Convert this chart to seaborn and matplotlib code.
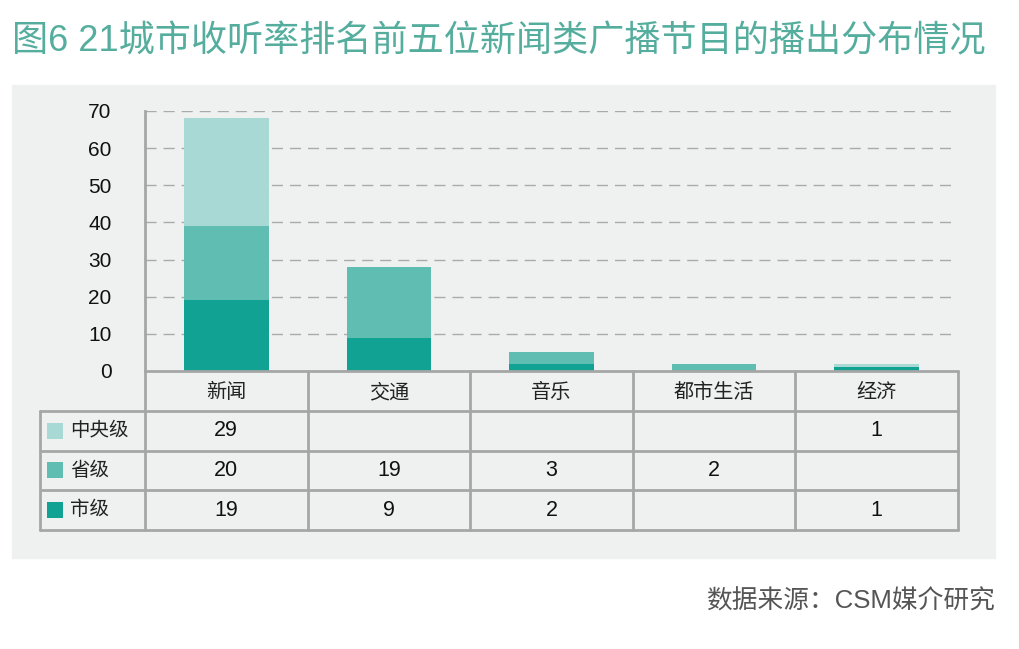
import matplotlib
matplotlib.use('Agg')
import matplotlib.pyplot as plt
import seaborn as sns
import pandas as pd
from matplotlib.patches import Rectangle

sns.set_theme(style='white')
plt.rcParams['font.family'] = ['Liberation Sans', 'Noto Sans CJK SC', 'DejaVu Sans']

# ── data ─────────────────────────────────────────────
categories = ['新闻', '交通', '音乐', '都市生活', '经济']
levels = ['中央级', '省级', '市级']
central = [29, 0, 0, 0, 1]
province = [20, 19, 3, 2, 0]
city = [19, 9, 2, 0, 1]
colors = {'中央级': '#a9d9d5', '省级': '#5fbdb1', '市级': '#12a293'}
y_ticks = [0, 10, 20, 30, 40, 50, 60, 70]

values = {'中央级': central, '省级': province, '市级': city}
df = pd.DataFrame({'category': categories, '中央级': central,
                   '省级': province, '市级': city})
df['top_city'] = df['市级']
df['top_prov'] = df['市级'] + df['省级']
df['top_all'] = df['top_prov'] + df['中央级']

W, H = 1020, 649
fig = plt.figure(figsize=(W / 100, H / 100), dpi=100)
fig.patch.set_facecolor('white')

# grey panel behind chart + table
fig.add_artist(Rectangle((12 / W, 1 - 558 / H), (995 - 12) / W, (558 - 85) / H,
                         transform=fig.transFigure, color='#eff1f0', zorder=0))

fig.text(12 / W, 1 - 42 / H, '图6 21城市收听率排名前五位新闻类广播节目的播出分布情况',
         fontsize=26, color='#55ad9e', va='center', ha='left')
fig.text(995 / W, 1 - 601 / H, '数据来源：CSM媒介研究', fontsize=18.5,
         color='#555555', va='center', ha='right')

# ── stacked bars (overlapping cumulative totals) ─────
ax = fig.add_axes([145 / W, 1 - 371 / H, (958 - 145) / W, 260 / H])
ax.set_facecolor('none')
for col, lvl in [('top_all', '中央级'), ('top_prov', '省级'), ('top_city', '市级')]:
    sns.barplot(data=df, x='category', y=col, color=colors[lvl], width=0.52,
                saturation=1, linewidth=0, ax=ax, zorder=3)
ax.set_xlim(-0.5, len(categories) - 0.5)
ax.set_ylim(0, 70)
ax.set_yticks(y_ticks)
ax.set_xticks([])
ax.set_xlabel('')
ax.set_ylabel('')
for t in y_ticks[1:]:
    ax.axhline(t, color='#aaaaaa', lw=1, ls=(0, (8, 5)), zorder=1)
ax.tick_params(axis='y', length=0, pad=24, labelsize=15, labelcolor='#111111')
for s in ['top', 'right', 'bottom']:
    ax.spines[s].set_visible(False)
ax.spines['left'].set_color('#a6a6a6')
ax.spines['left'].set_linewidth(2)

# ── data table under the bars ────────────────────────
col_w = (958 - 145) / len(categories)
left = -0.5 - (145 - 40) / col_w
tax = fig.add_axes([40 / W, 1 - 530 / H, (958 - 40) / W, (530 - 371) / H])
tax.set_facecolor('none')
tax.set_xlim(left, len(categories) - 0.5)
tax.set_ylim(0, 4)
tax.axis('off')
lc, lw = '#a6a6a6', 2
for y in [0, 1, 2, 3]:
    tax.plot([left, len(categories) - 0.5], [y, y], color=lc, lw=lw, clip_on=False)
tax.plot([-0.5, len(categories) - 0.5], [4, 4], color=lc, lw=lw, clip_on=False)
tax.plot([left, left], [0, 3], color=lc, lw=lw, clip_on=False)
for i in range(len(categories) + 1):
    tax.plot([i - 0.5, i - 0.5], [0, 4], color=lc, lw=lw, clip_on=False)

for i, c in enumerate(categories):
    tax.text(i, 3.45, c, ha='center', va='center', fontsize=14.5, color='#222222')
for r, lvl in enumerate(levels):
    yc = 2.5 - r
    tax.scatter([left + 0.09], [yc], marker='s', s=130, color=colors[lvl],
                clip_on=False, linewidths=0)
    tax.text(left + 0.185, yc, lvl, ha='left', va='center', fontsize=14, color='#222222')
    for i, v in enumerate(values[lvl]):
        if v:
            tax.text(i, yc, str(v), ha='center', va='center', fontsize=15.5,
                     color='#111111')

plt.savefig('out.png', dpi=100)
plt.close()
